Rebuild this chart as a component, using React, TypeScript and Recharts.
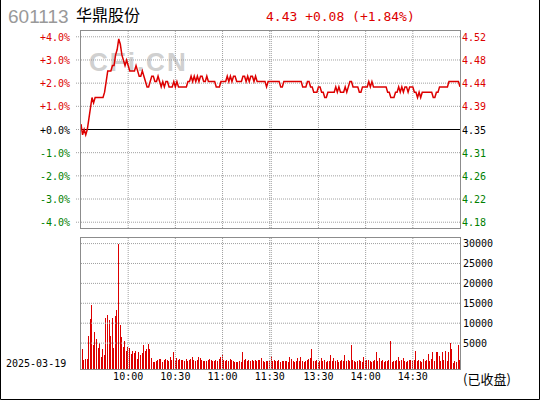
import React from 'react'
import { LineChart, Line, BarChart, Bar, XAxis, YAxis, ReferenceLine } from 'recharts'

const CODE = '601113'
const NAME = '华鼎股份'
const QUOTE = '4.43 +0.08 (+1.84%)'
const TRADE_DATE = '2025-03-19'
const STATUS = '(已收盘)'
const WATERMARK = 'CFi.CN'

const PRE_CLOSE = 4.35

// one price per minute: 9:30-11:30 then 13:00-15:00 (242 slots)
const PRICES = [
  4.36, 4.34, 4.35, 4.34, 4.35, 4.37, 4.39, 4.41, 4.40, 4.41,
  4.41, 4.41, 4.41, 4.41, 4.41, 4.42, 4.44, 4.46, 4.46, 4.46,
  4.47, 4.47, 4.49, 4.50, 4.52, 4.51, 4.49, 4.48, 4.47, 4.48,
  4.47, 4.46, 4.46, 4.46, 4.46, 4.47, 4.46, 4.45, 4.45, 4.46,
  4.45, 4.44, 4.43, 4.43, 4.44, 4.45, 4.45, 4.44, 4.44, 4.45,
  4.44, 4.43, 4.44, 4.43, 4.44, 4.44, 4.43, 4.43, 4.43, 4.44,
  4.43, 4.44, 4.43, 4.43, 4.43, 4.43, 4.43, 4.43, 4.44, 4.44,
  4.45, 4.44, 4.45, 4.44, 4.45, 4.44, 4.45, 4.45, 4.44, 4.44,
  4.45, 4.44, 4.44, 4.44, 4.44, 4.44, 4.43, 4.43, 4.43, 4.44,
  4.44, 4.44, 4.44, 4.45, 4.44, 4.45, 4.44, 4.45, 4.45, 4.44,
  4.44, 4.44, 4.44, 4.45, 4.45, 4.44, 4.45, 4.44, 4.45, 4.45,
  4.44, 4.45, 4.44, 4.44, 4.44, 4.44, 4.44, 4.44, 4.43, 4.44,
  4.44, 4.44, 4.44, 4.44, 4.44, 4.44, 4.44, 4.43, 4.43, 4.44,
  4.44, 4.44, 4.44, 4.44, 4.44, 4.44, 4.44, 4.44, 4.44, 4.44,
  4.44, 4.43, 4.43, 4.43, 4.44, 4.44, 4.43, 4.43, 4.42, 4.42,
  4.42, 4.43, 4.43, 4.42, 4.42, 4.41, 4.41, 4.42, 4.42, 4.42,
  4.42, 4.42, 4.43, 4.42, 4.43, 4.42, 4.42, 4.42, 4.43, 4.42,
  4.43, 4.44, 4.44, 4.43, 4.43, 4.43, 4.43, 4.42, 4.42, 4.43,
  4.43, 4.43, 4.43, 4.44, 4.43, 4.44, 4.43, 4.43, 4.43, 4.43,
  4.43, 4.43, 4.43, 4.43, 4.43, 4.42, 4.42, 4.41, 4.41, 4.41,
  4.42, 4.42, 4.43, 4.42, 4.43, 4.42, 4.43, 4.43, 4.42, 4.43,
  4.43, 4.43, 4.42, 4.42, 4.41, 4.42, 4.41, 4.42, 4.42, 4.42,
  4.42, 4.42, 4.42, 4.42, 4.41, 4.41, 4.42, 4.42, 4.43, 4.43,
  4.43, 4.43, 4.43, 4.43, 4.44, 4.44, 4.44, 4.44, 4.44, 4.44,
  4.44, 4.43,
]

// shares per minute, same slots as PRICES
const VOLUMES = [
  830, 3600, 830, 1080, 1080, 6830, 11080, 14580, 4580, 7750,
  6080, 3830, 5080, 1580, 3580, 2080, 11330, 12080, 10830, 6830,
  11330, 3830, 11830, 13330, 29830, 9500, 6580, 4080, 5580, 3080,
  4080, 3830, 2330, 3080, 2580, 3080, 1080, 2830, 2080, 2500,
  4580, 3080, 3580, 4830, 3580, 1330, 330, 330, 580, 830,
  1080, 1080, 330, 830, 1080, 830, 580, 1580, 830, 2830,
  580, 1330, 830, 1080, 830, 830, 580, 1080, 580, 830,
  1080, 1580, 830, 580, 830, 1580, 1330, 830, 580, 580,
  580, 830, 1080, 830, 580, 580, 830, 580, 1080, 1580,
  2330, 830, 580, 830, 580, 1080, 830, 580, 330, 330,
  330, 580, 330, 2830, 830, 1080, 580, 830, 580, 830,
  580, 830, 580, 830, 830, 1330, 580, 330, 580, 580,
  580, 1830, 580, 830, 580, 580, 830, 330, 580, 580,
  580, 580, 330, 1580, 1080, 580, 330, 580, 1330, 580,
  1580, 580, 330, 580, 830, 1080, 1330, 3580, 580, 580,
  830, 330, 580, 1330, 580, 830, 330, 580, 580, 2080,
  580, 1330, 580, 830, 330, 580, 830, 580, 2000, 580,
  830, 580, 4580, 830, 580, 330, 580, 830, 580, 330,
  1580, 580, 830, 830, 580, 330, 580, 830, 2830, 580,
  1330, 580, 830, 330, 580, 580, 830, 5580, 330, 580,
  580, 830, 1580, 580, 830, 1330, 580, 330, 580, 830,
  830, 580, 830, 3080, 580, 830, 580, 330, 1080, 580,
  830, 2330, 580, 1080, 2830, 580, 2830, 2830, 1830, 580,
  2830, 830, 3080, 580, 2830, 5000, 3580, 80, 580, 330,
  4580, 800,
]

const PCT_TICKS = [4, 3, 2, 1, 0, -1, -2, -3, -4]
const PCT_LABELS = ['+4.0%', '+3.0%', '+2.0%', '+1.0%', '+0.0%', '-1.0%', '-2.0%', '-3.0%', '-4.0%']
const PRICE_LABELS = ['4.52', '4.48', '4.44', '4.39', '4.35', '4.31', '4.26', '4.22', '4.18']
const VOL_TICKS = [30000, 25000, 20000, 15000, 10000, 5000]
const TIME_TICKS = [30, 60, 90, 120, 151, 181, 211]
const TIME_LABELS = ['10:00', '10:30', '11:00', '11:30', '13:30', '14:00', '14:30']
const GRID_X = [30, 60, 90, 120, 121, 151, 181, 211]

const W = 540
const H = 400
const PLOT_L = 81
const PLOT_R = 460
const TOP_Y0 = 31
const TOP_Y1 = 228
const BOT_Y0 = 238
const BOT_Y1 = 369
const PCT_DOMAIN = [-4.25, 4.25]
const VOL_FLOOR = -1500
const VOL_DOMAIN = [VOL_FLOOR, 31400]
const LAST_SLOT = 241

const RED = '#dd0000'
const GREEN = '#008000'
const GRID = '#a0a0a0'
const FRAME = '#8c8c8c'
const MONO = '"DejaVu Sans Mono", monospace'
const SANS = '"Liberation Sans", Arial, sans-serif'
const CJK = '"Noto Sans CJK SC", sans-serif'

const priceRows = PRICES.map((p, i) => ({ i, pct: ((p - PRE_CLOSE) / PRE_CLOSE) * 100 }))
const volRows = VOLUMES.map((v, i) => ({ i, vol: v }))

const signColor = (v: number) => (v > 0 ? RED : v < 0 ? GREEN : '#000')

function PctTick(props: any) {
  const { x, y, payload } = props
  const k = PCT_TICKS.indexOf(payload.value)
  return (
    <text x={x} y={y} dy={4} textAnchor="end" fontSize={10} fontFamily={MONO} fill={signColor(payload.value)}>
      {PCT_LABELS[k]}
    </text>
  )
}

function PriceTick(props: any) {
  const { x, y, payload } = props
  const k = PCT_TICKS.indexOf(payload.value)
  return (
    <text x={x} y={y} dy={4} textAnchor="start" fontSize={10} fontFamily={MONO} fill={signColor(payload.value)}>
      {PRICE_LABELS[k]}
    </text>
  )
}

const gridProps = { stroke: GRID, strokeDasharray: '1 1', strokeWidth: 1 }

export default function App() {
  return (
    <div style={{ position: 'absolute', left: 0, top: 0, width: W, height: H, background: '#fff', overflow: 'hidden' }}>
      <svg width={W} height={H} style={{ position: 'absolute', left: 0, top: 0 }}>
        <text x={89} y={71} fontSize={26} fontWeight="bold" fontFamily={SANS} fill="#d0d0d0" letterSpacing={2}>
          {WATERMARK}
        </text>
        <text x={8} y={23} fontSize={19} fontFamily={SANS} fill="#999">{CODE}</text>
        <text x={76} y={21} fontSize={16} fontFamily={CJK} fill="#000">{NAME}</text>
        <text x={266} y={21} fontSize={13} fontFamily={MONO} fill={RED}>{QUOTE}</text>
        <text x={6} y={367} fontSize={10} fontFamily={MONO} fill="#000">{TRADE_DATE}</text>
        <text x={463} y={384} fontSize={13} fontFamily={CJK} fill="#000">{STATUS}</text>
      </svg>

      <div style={{ position: 'absolute', left: 0, top: 0 }}>
        <LineChart width={W} height={TOP_Y1 + 12} data={priceRows} margin={{ top: TOP_Y0, right: 0, bottom: 12, left: 0 }}>
          <XAxis dataKey="i" type="number" domain={[0, LAST_SLOT]} hide />
          <YAxis
            yAxisId="pct"
            orientation="left"
            width={PLOT_L}
            domain={PCT_DOMAIN}
            allowDataOverflow
            ticks={PCT_TICKS}
            interval={0}
            axisLine={false}
            tickLine={{ stroke: GRID, strokeDasharray: '1 1' }}
            tickSize={5}
            tickMargin={6}
            tick={PctTick}
          />
          <YAxis
            yAxisId="price"
            orientation="right"
            width={W - PLOT_R}
            domain={PCT_DOMAIN}
            allowDataOverflow
            ticks={PCT_TICKS}
            interval={0}
            axisLine={false}
            tickLine={false}
            tickSize={0}
            tickMargin={2}
            tick={PriceTick}
          />
          {PCT_TICKS.filter((v) => v !== 0).map((v) => (
            <ReferenceLine key={'h' + v} yAxisId="pct" y={v} {...gridProps} />
          ))}
          {GRID_X.map((v) => (
            <ReferenceLine key={'v' + v} yAxisId="pct" x={v} {...gridProps} />
          ))}
          <ReferenceLine yAxisId="pct" y={0} stroke="#000" strokeWidth={1} />
          <Line
            yAxisId="pct"
            type="linear"
            dataKey="pct"
            stroke={RED}
            strokeWidth={1.5}
            dot={false}
            isAnimationActive={false}
          />
        </LineChart>
      </div>

      <div style={{ position: 'absolute', left: 0, top: 0 }}>
        <BarChart width={W} height={H} data={volRows} margin={{ top: BOT_Y0, right: 0, bottom: 0, left: PLOT_L }}>
          <XAxis
            dataKey="i"
            type="number"
            domain={[0, LAST_SLOT]}
            allowDataOverflow
            ticks={TIME_TICKS}
            interval={0}
            tickFormatter={(v: number) => TIME_LABELS[TIME_TICKS.indexOf(v)]}
            axisLine={false}
            tickLine={false}
            tickSize={0}
            tickMargin={4}
            height={H - BOT_Y1}
            tick={{ fill: '#000', fontSize: 10, fontFamily: MONO }}
          />
          <YAxis
            orientation="right"
            width={W - PLOT_R}
            domain={VOL_DOMAIN}
            allowDataOverflow
            ticks={VOL_TICKS}
            interval={0}
            axisLine={false}
            tickLine={false}
            tickSize={0}
            tickMargin={3}
            tick={{ fill: '#000', fontSize: 10, fontFamily: MONO }}
          />
          {VOL_TICKS.map((v) => (
            <ReferenceLine key={'h' + v} y={v} {...gridProps} />
          ))}
          {GRID_X.map((v) => (
            <ReferenceLine key={'v' + v} x={v} {...gridProps} />
          ))}
          <Bar
            dataKey={(d: { vol: number }) => [VOL_FLOOR, d.vol]}
            fill={RED}
            barSize={1}
            shapeRendering="crispEdges"
            isAnimationActive={false}
          />
        </BarChart>
      </div>

      <svg width={W} height={H} style={{ position: 'absolute', left: 0, top: 0, pointerEvents: 'none' }}>
        <rect x={PLOT_L - 0.5} y={TOP_Y0 - 0.5} width={PLOT_R - PLOT_L + 1} height={TOP_Y1 - TOP_Y0 + 1} fill="none" stroke={FRAME} />
        <rect x={PLOT_L - 0.5} y={BOT_Y0 - 0.5} width={PLOT_R - PLOT_L + 1} height={BOT_Y1 - BOT_Y0 + 1} fill="none" stroke={FRAME} />
        <path d={`M0.5 0 V${H - 0.5} H${W - 0.5} V0`} fill="none" stroke="#000" />
      </svg>
    </div>
  )
}
